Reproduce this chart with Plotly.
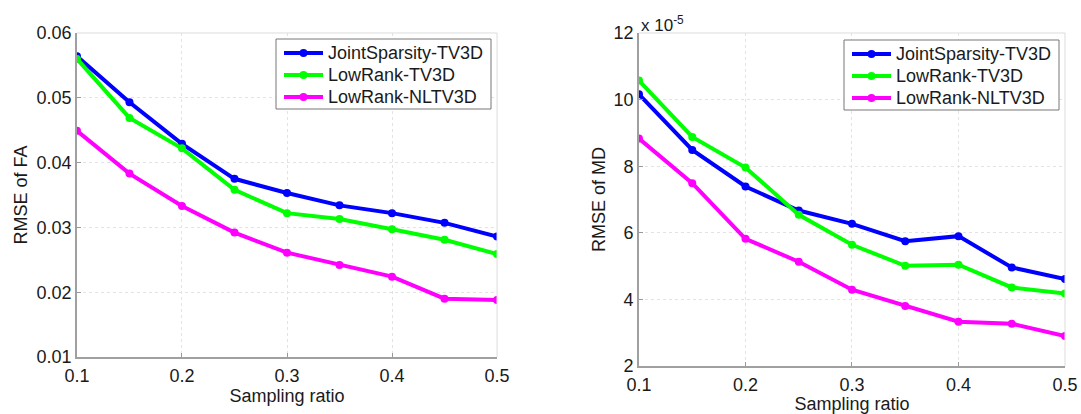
import plotly.graph_objects as go

# Sampling ratios shared by both panels
sampling_ratio = [0.1, 0.15, 0.2, 0.25, 0.3, 0.35, 0.4, 0.45, 0.5]

# RMSE of FA
fa_joint_tv3d = [0.0564, 0.0493, 0.0429, 0.0375, 0.0353, 0.0334, 0.0322, 0.0307, 0.0286]
fa_lowrank_tv3d = [0.0560, 0.0469, 0.0422, 0.0358, 0.0322, 0.0313, 0.0297, 0.0281, 0.0259]
fa_lowrank_nltv3d = [0.0449, 0.0383, 0.0333, 0.0292, 0.0261, 0.0242, 0.0224, 0.0190, 0.0188]

# RMSE of MD, in units of 1e-5
md_joint_tv3d = [10.16, 8.49, 7.39, 6.67, 6.27, 5.75, 5.90, 4.96, 4.61]
md_lowrank_tv3d = [10.57, 8.88, 7.96, 6.54, 5.64, 5.01, 5.04, 4.36, 4.18]
md_lowrank_nltv3d = [8.83, 7.49, 5.82, 5.13, 4.29, 3.80, 3.33, 3.27, 2.90]

series_names = ["JointSparsity-TV3D", "LowRank-TV3D", "LowRank-NLTV3D"]
series_colors = ["#0000ff", "#00ff00", "#ff00ff"]

x_ticks = [0.1, 0.2, 0.3, 0.4, 0.5]
x_tick_text = ["0.1", "0.2", "0.3", "0.4", "0.5"]
fa_ticks = [0.01, 0.02, 0.03, 0.04, 0.05, 0.06]
fa_tick_text = ["0.01", "0.02", "0.03", "0.04", "0.05", "0.06"]
md_ticks = [2, 4, 6, 8, 10, 12]

W, H = 1081, 414
FONT = "Liberation Sans, Arial, sans-serif"
TXT = "#1a1a1a"
FS = 18

fig = go.Figure()

panels = [
    ("x", "y", [fa_joint_tv3d, fa_lowrank_tv3d, fa_lowrank_nltv3d]),
    ("x2", "y2", [md_joint_tv3d, md_lowrank_tv3d, md_lowrank_nltv3d]),
]
for xa, ya, data in panels:
    for name, color, vals in zip(series_names, series_colors, data):
        fig.add_trace(go.Scatter(
            x=sampling_ratio, y=vals, name=name, mode="lines+markers",
            line=dict(color=color, width=4),
            marker=dict(color=color, size=8),
            xaxis=xa, yaxis=ya, showlegend=False,
        ))

axis_common = dict(
    automargin=False,
    showgrid=True, gridcolor="#e3e3e3", gridwidth=1, griddash="dot",
    zeroline=False, ticks="inside", ticklen=4, tickcolor="#999",
    tickfont=dict(family=FONT, size=FS, color=TXT),
    showline=True, linecolor="#a0a0a0", linewidth=1.5,
)
title_font = dict(family=FONT, size=FS, color=TXT)

fig.update_layout(
    width=W, height=H,
    margin=dict(l=0, r=0, t=0, b=0, autoexpand=False),
    paper_bgcolor="white", plot_bgcolor="white",
    xaxis=dict(axis_common, domain=[0.0712, 0.4598], range=[0.1, 0.5],
               tickvals=x_ticks, ticktext=x_tick_text, anchor="y",
               ticklabelstandoff=2,
               title=dict(text="Sampling ratio", standoff=0, font=title_font)),
    yaxis=dict(axis_common, domain=[0.1377, 0.9203], range=[0.01, 0.06],
               tickvals=fa_ticks, ticktext=fa_tick_text, anchor="x",
               title=dict(text="RMSE of FA", standoff=4, font=title_font)),
    xaxis2=dict(axis_common, domain=[0.5911, 0.9852], range=[0.1, 0.5],
                tickvals=x_ticks, ticktext=x_tick_text, anchor="y2",
                ticklabelstandoff=2,
                title=dict(text="Sampling ratio", standoff=0, font=title_font)),
    yaxis2=dict(axis_common, domain=[0.1159, 0.9203], range=[2, 12],
                tickvals=md_ticks, ticktext=[str(t) for t in md_ticks],
                anchor="x2",
                title=dict(text="RMSE of MD", standoff=3, font=title_font)),
)

# Light frame on the top and right of each panel
for xa, ya in [("x", "y"), ("x2", "y2")]:
    fig.add_shape(type="line", xref=f"{xa} domain", yref=f"{ya} domain",
                  x0=0, x1=1, y0=1, y1=1, line=dict(color="#dcdcdc", width=1))
    fig.add_shape(type="line", xref=f"{xa} domain", yref=f"{ya} domain",
                  x0=1, x1=1, y0=0, y1=1, line=dict(color="#dcdcdc", width=1))


def px(x):
    return x / W


def py(y):
    return 1 - y / H


# Boxed legend in the upper right of each panel (pixel layout: left, top)
ROW = 22
for left, top in [(276, 39), (844, 40)]:
    fig.add_shape(type="rect", xref="paper", yref="paper",
                  x0=px(left), x1=px(left + 215), y0=py(top), y1=py(top + 70),
                  line=dict(color="#777", width=1), fillcolor="white", layer="above")
    for i, (name, color) in enumerate(zip(series_names, series_colors)):
        yc = top + 14 + i * ROW
        fig.add_shape(type="line", xref="paper", yref="paper",
                      x0=px(left + 8), x1=px(left + 47), y0=py(yc), y1=py(yc),
                      line=dict(color=color, width=4), layer="above")
        fig.add_shape(type="circle", xref="paper", yref="paper",
                      x0=px(left + 23.5), x1=px(left + 31.5),
                      y0=py(yc + 4), y1=py(yc - 4),
                      line=dict(color=color, width=0), fillcolor=color, layer="above")
        fig.add_annotation(text=name, xref="paper", yref="paper",
                           x=px(left + 50), y=py(yc), xanchor="left", yanchor="middle",
                           showarrow=False,
                           font=dict(family=FONT, size=FS, color=TXT))

# Exponent label of the MD axis
fig.add_annotation(text="x 10<sup>-5</sup>", xref="x2 domain", yref="y2 domain",
                   x=0.0, y=1.0, xanchor="left", yanchor="bottom", showarrow=False,
                   font=dict(family=FONT, size=17, color=TXT), yshift=-4)

fig.write_html("out.html")
